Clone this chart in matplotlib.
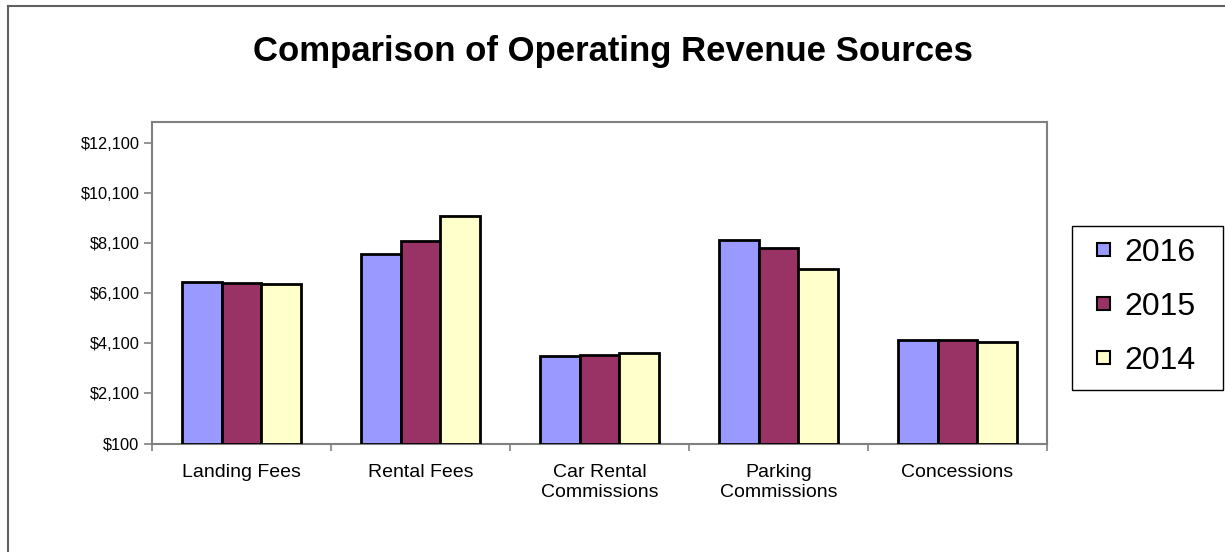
import numpy as np
import matplotlib
matplotlib.use('Agg')
import matplotlib.pyplot as plt
from matplotlib.lines import Line2D
from matplotlib.patches import Rectangle
from matplotlib.ticker import FuncFormatter, FixedLocator

plt.rcParams['font.family'] = ['Liberation Sans', 'DejaVu Sans']

categories = ['Landing Fees', 'Rental Fees', 'Car Rental\nCommissions',
              'Parking\nCommissions', 'Concessions']
years = ['2016', '2015', '2014']
v2016 = [6540, 7690, 3610, 8230, 4230]
v2015 = [6530, 8210, 3650, 7930, 4230]
v2014 = [6460, 9200, 3720, 7090, 4150]
colors = ['#9999FF', '#993366', '#FFFFCC']
yticks = [100, 2100, 4100, 6100, 8100, 10100, 12100]

W, H = 1225, 552
fig = plt.figure(figsize=(W / 100, H / 100), dpi=100)
ax = fig.add_axes([152 / W, 1 - 443.5 / H, (1047 - 152) / W, (443.5 - 122) / H])

x = np.arange(len(categories))
w = 1 / 4.5   # gap width 150%
for i, (vals, lab, c) in enumerate(zip([v2016, v2015, v2014], years, colors)):
    ax.bar(x + (i - 1) * w, np.array(vals) - 100, bottom=100, width=w, color=c,
           edgecolor='black', linewidth=2, label=lab, zorder=3)

ax.set_xlim(-0.5, len(categories) - 0.5)
ax.set_ylim(100, 12950)
ax.set_yticks(yticks)
ax.yaxis.set_major_formatter(FuncFormatter(lambda v, p: f'${v:,.0f}'))
ax.set_xticks(x)
ax.set_xticklabels(categories, fontsize=14, linespacing=1.2)
ax.xaxis.set_minor_locator(FixedLocator(np.arange(-0.5, len(categories), 1)))
ax.tick_params(axis='x', which='major', length=0, pad=15)
ax.tick_params(axis='x', which='minor', length=5, color='#808080', width=1.2)
ax.tick_params(axis='y', length=6, color='#808080', width=1.2, labelsize=11.8, pad=3)
for s in ax.spines.values():
    s.set_color('#808080')
    s.set_linewidth(1.5)

fig.text(0.5, 1 - 51 / H, 'Comparison of Operating Revenue Sources',
         ha='center', va='center', fontsize=25, fontweight='bold')

# legend: frame drawn separately to match the wide box
fig.add_artist(Rectangle((1072 / W, 1 - 390 / H), (1223 - 1072) / W, (390 - 226) / H,
                         transform=fig.transFigure, facecolor='white',
                         edgecolor='black', linewidth=1))
leg = fig.legend(loc='center left', bbox_to_anchor=(1097 / W, 1 - 307 / H),
                 fontsize=23, frameon=False, handlelength=0.42, handleheight=0.26,
                 handletextpad=0.45, labelspacing=0.76, borderpad=0, borderaxespad=0)
for h in leg.legend_handles:
    h.set_linewidth(1.5)

# outer chart border (only top and left visible in the crop)
fig.add_artist(Line2D([8 / W, 8 / W], [0, 1 - 6 / H], transform=fig.transFigure,
                      color='#606060', linewidth=1.5))
fig.add_artist(Line2D([8 / W, 1], [1 - 6 / H, 1 - 6 / H], transform=fig.transFigure,
                      color='#606060', linewidth=1.5))

fig.savefig('out.png', dpi=100, facecolor='white')
